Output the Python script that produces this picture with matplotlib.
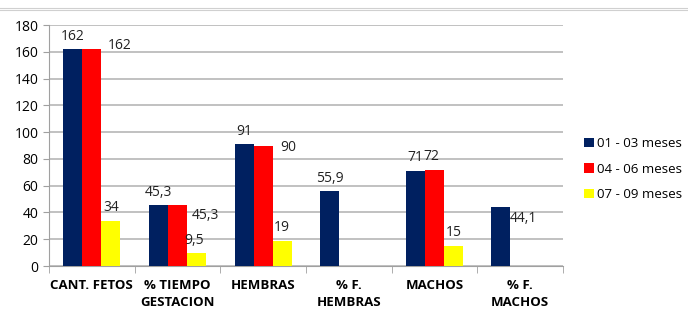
import numpy as np
import matplotlib.pyplot as plt
from matplotlib.lines import Line2D

# datos
categorias = ['CANT. FETOS', '% TIEMPO\nGESTACION', 'HEMBRAS', '% F.\nHEMBRAS', 'MACHOS', '% F.\nMACHOS']
series = ['01 - 03 meses', '04 - 06 meses', '07 - 09 meses']
m01_03 = [162, 45.3, 91, 55.9, 71, 44.1]
m04_06 = [162, 45.3, 90, np.nan, 72, np.nan]
m07_09 = [34, 9.5, 19, np.nan, 15, np.nan]

colores = ['#002060', '#FF0000', '#FFFF00']
# desplazamiento de las etiquetas (puntos)
offs = [
    [(0, 4), (0, 4), (0, 4), (0, 4), (0, 4), (16, -14)],
    [(20, -3), (20, -13), (18, -7), (0, 0), (-2, 4), (0, 0)],
    [(0, 4), (-2, 4), (0, 4), (0, 0), (0, 4), (0, 0)],
]

plt.rcParams['font.family'] = ['Open Sans', 'DejaVu Sans']

fig = plt.figure(figsize=(6.88, 3.19), dpi=100)
ax = fig.add_axes([0.0712, 0.166, 0.7468, 0.7556])

x = np.arange(len(categorias))
w = 0.222
for i, (vals, c) in enumerate(zip([m01_03, m04_06, m07_09], colores)):
    pos = x + (i - 1) * w
    ax.bar(pos, vals, w, color=c, label=series[i], zorder=3)
    for p, v, o in zip(pos, vals, offs[i]):
        if np.isnan(v):
            continue
        txt = ('%g' % v).replace('.', ',')
        ax.annotate(txt, (p, v), xytext=o, textcoords='offset points',
                    ha='center', va='bottom', fontsize=10, color='#222222', zorder=4)

ax.set_xlim(-0.5, len(categorias) - 0.5)
ax.set_ylim(0, 180)
ax.set_yticks(range(0, 181, 20))
ax.yaxis.grid(True, color='#bcbcbc', linewidth=1.3, zorder=0)
ax.set_xticks(x)
ax.set_xticklabels(categorias, fontweight='bold', fontsize=9.5, linespacing=1.45)
ax.set_xticks(np.arange(-0.5, len(categorias)), minor=True)
ax.tick_params(axis='x', which='major', length=0, pad=9)
ax.tick_params(axis='x', which='minor', length=5, color='#a0a0a0')
ax.tick_params(axis='y', length=4, color='#a0a0a0', labelsize=10)
for s in ['top', 'right']:
    ax.spines[s].set_visible(False)
ax.spines['left'].set_color('#a0a0a0')
ax.spines['bottom'].set_color('#a0a0a0')

fig.legend(loc='center left', bbox_to_anchor=(0.849, 0.47), frameon=False,
           fontsize=9.5, handlelength=0.75, handleheight=0.75, handletextpad=0.25,
           labelspacing=0.95, borderaxespad=0, borderpad=0)

# doble linea superior
for yy in [0.975, 0.968]:
    fig.add_artist(Line2D([0, 1], [yy, yy], color='#d0d0d0', linewidth=0.8))

fig.savefig('out.png', dpi=100)
